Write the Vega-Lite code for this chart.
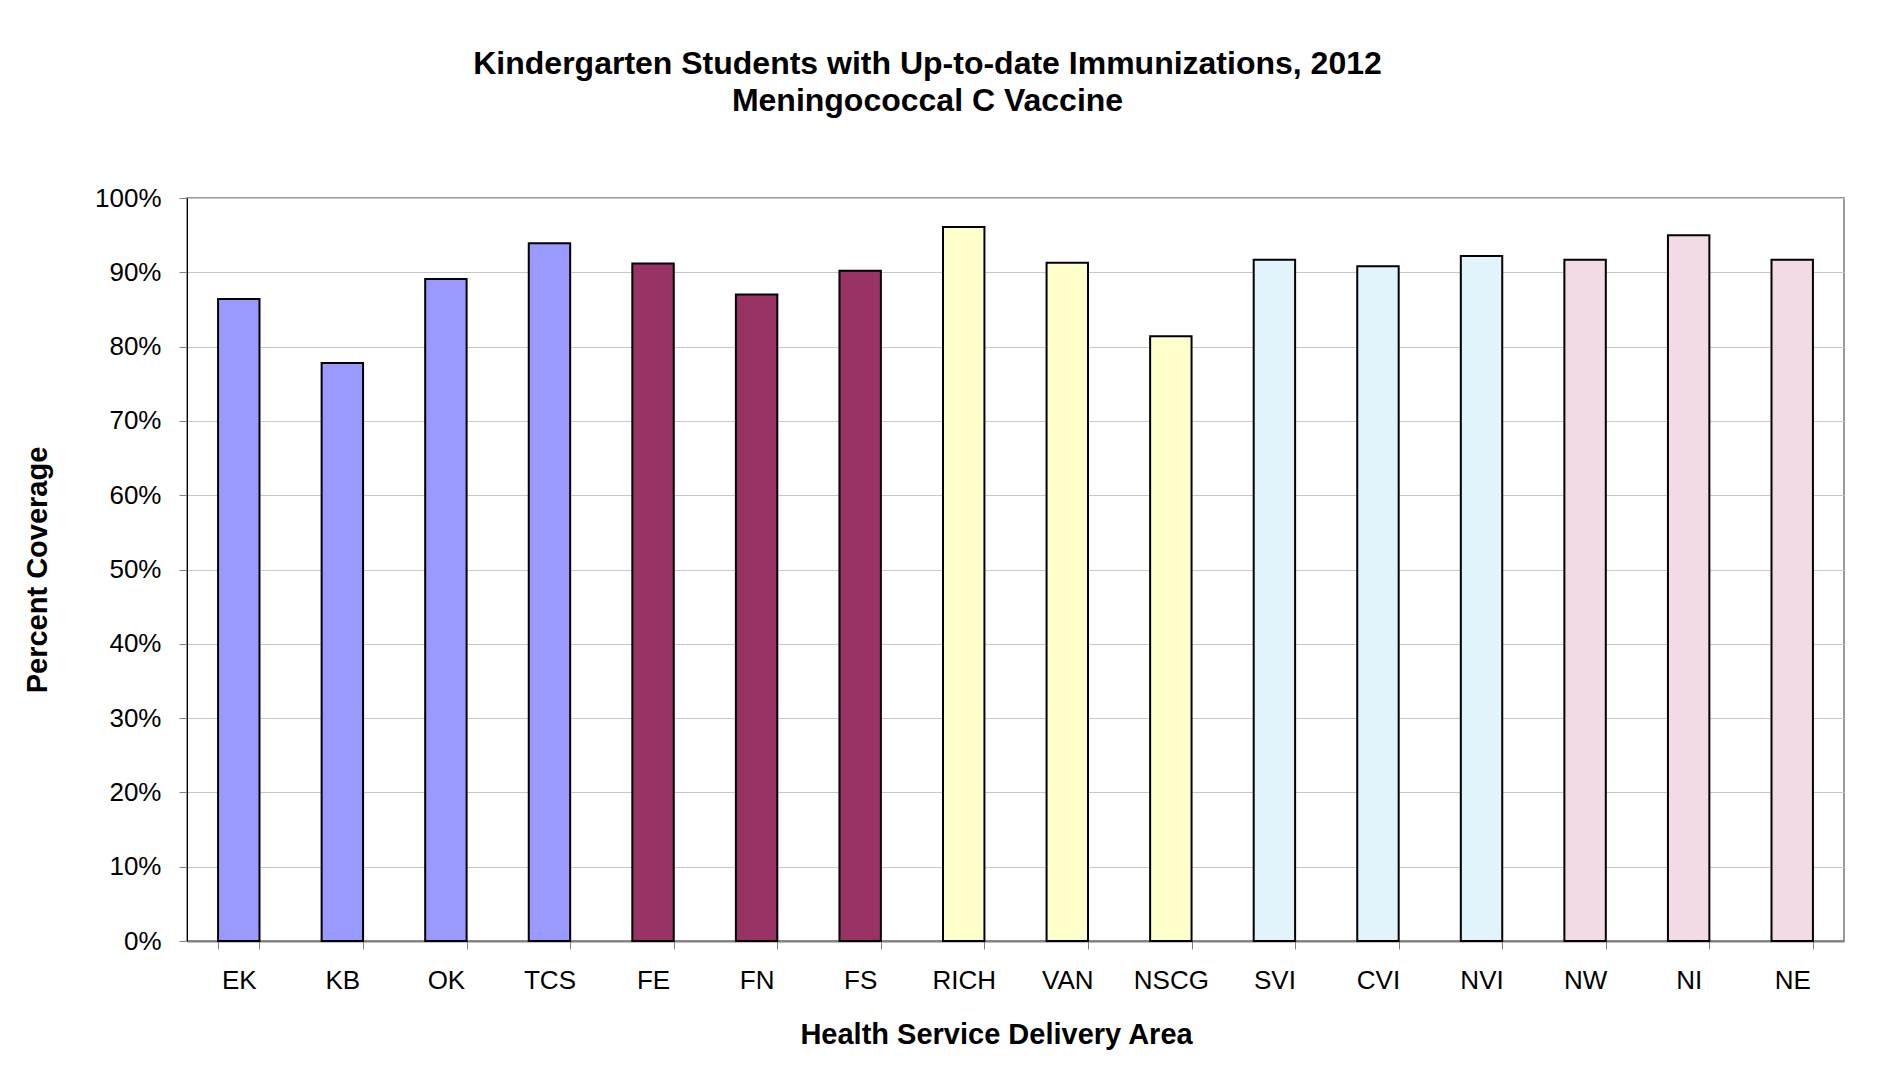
{
  "$schema": "https://vega.github.io/schema/vega-lite/v6.json",
  "width": 1657,
  "height": 743,
  "autosize": "none",
  "padding": {"left": 187, "top": 198, "right": 33, "bottom": 144},
  "background": "white",
  "title": {
    "text": ["Kindergarten Students with Up-to-date Immunizations, 2012", "Meningococcal C Vaccine"],
    "font": "Liberation Sans",
    "fontSize": 32,
    "fontWeight": "bold",
    "color": "black",
    "lineHeight": 37,
    "anchor": "middle",
    "frame": "group",
    "dx": -88,
    "offset": 67
  },
  "data": {
    "values": [
      {"hsda": "EK", "ha": "Interior", "coverage": 0.864},
      {"hsda": "KB", "ha": "Interior", "coverage": 0.778},
      {"hsda": "OK", "ha": "Interior", "coverage": 0.891},
      {"hsda": "TCS", "ha": "Interior", "coverage": 0.939},
      {"hsda": "FE", "ha": "Fraser", "coverage": 0.912},
      {"hsda": "FN", "ha": "Fraser", "coverage": 0.870},
      {"hsda": "FS", "ha": "Fraser", "coverage": 0.902},
      {"hsda": "RICH", "ha": "Vancouver Coastal", "coverage": 0.961},
      {"hsda": "VAN", "ha": "Vancouver Coastal", "coverage": 0.913},
      {"hsda": "NSCG", "ha": "Vancouver Coastal", "coverage": 0.814},
      {"hsda": "SVI", "ha": "Vancouver Island", "coverage": 0.917},
      {"hsda": "CVI", "ha": "Vancouver Island", "coverage": 0.908},
      {"hsda": "NVI", "ha": "Vancouver Island", "coverage": 0.922},
      {"hsda": "NW", "ha": "Northern", "coverage": 0.917},
      {"hsda": "NI", "ha": "Northern", "coverage": 0.950},
      {"hsda": "NE", "ha": "Northern", "coverage": 0.917}
    ]
  },
  "mark": {"type": "bar", "stroke": "black", "strokeWidth": 2},
  "encoding": {
    "x": {
      "field": "hsda",
      "type": "nominal",
      "sort": null,
      "scale": {"paddingInner": 0.6, "paddingOuter": 0.3},
      "axis": {
        "title": "Health Service Delivery Area",
        "titleFont": "Liberation Sans",
        "titleFontSize": 29,
        "titleFontWeight": "bold",
        "titleColor": "black",
        "titlePadding": 27,
        "titleX": 809,
        "labelFont": "Liberation Sans",
        "labelFontSize": 26,
        "labelColor": "black",
        "labelAngle": 0,
        "labelBaseline": "middle",
        "labelPadding": 31,
        "tickBand": "extent",
        "tickSize": 8,
        "tickColor": "#808080",
        "tickWidth": 1,
        "domainColor": "#808080",
        "domainWidth": 2,
        "grid": false
      }
    },
    "y": {
      "field": "coverage",
      "type": "quantitative",
      "scale": {"domain": [0, 1]},
      "axis": {
        "title": "Percent Coverage",
        "titleFont": "Liberation Sans",
        "titleFontSize": 29,
        "titleFontWeight": "bold",
        "titleColor": "black",
        "titlePadding": 42,
        "format": ".0%",
        "values": [0, 0.1, 0.2, 0.3, 0.4, 0.5, 0.6, 0.7, 0.8, 0.9, 1],
        "labelFont": "Liberation Sans",
        "labelFontSize": 26,
        "labelColor": "black",
        "labelPadding": 18,
        "tickSize": 8,
        "tickColor": "#808080",
        "tickWidth": 1,
        "domainColor": "black",
        "domainWidth": 1,
        "grid": true,
        "gridColor": "#C8C8C8",
        "gridWidth": 1
      }
    },
    "color": {
      "field": "ha",
      "type": "nominal",
      "scale": {
        "domain": ["Interior", "Fraser", "Vancouver Coastal", "Vancouver Island", "Northern"],
        "range": ["#9999FF", "#993366", "#FFFFCC", "#E1F4FC", "#F2DAE6"]
      },
      "legend": null
    }
  },
  "config": {
    "view": {"stroke": "#999999", "strokeWidth": 2}
  }
}
